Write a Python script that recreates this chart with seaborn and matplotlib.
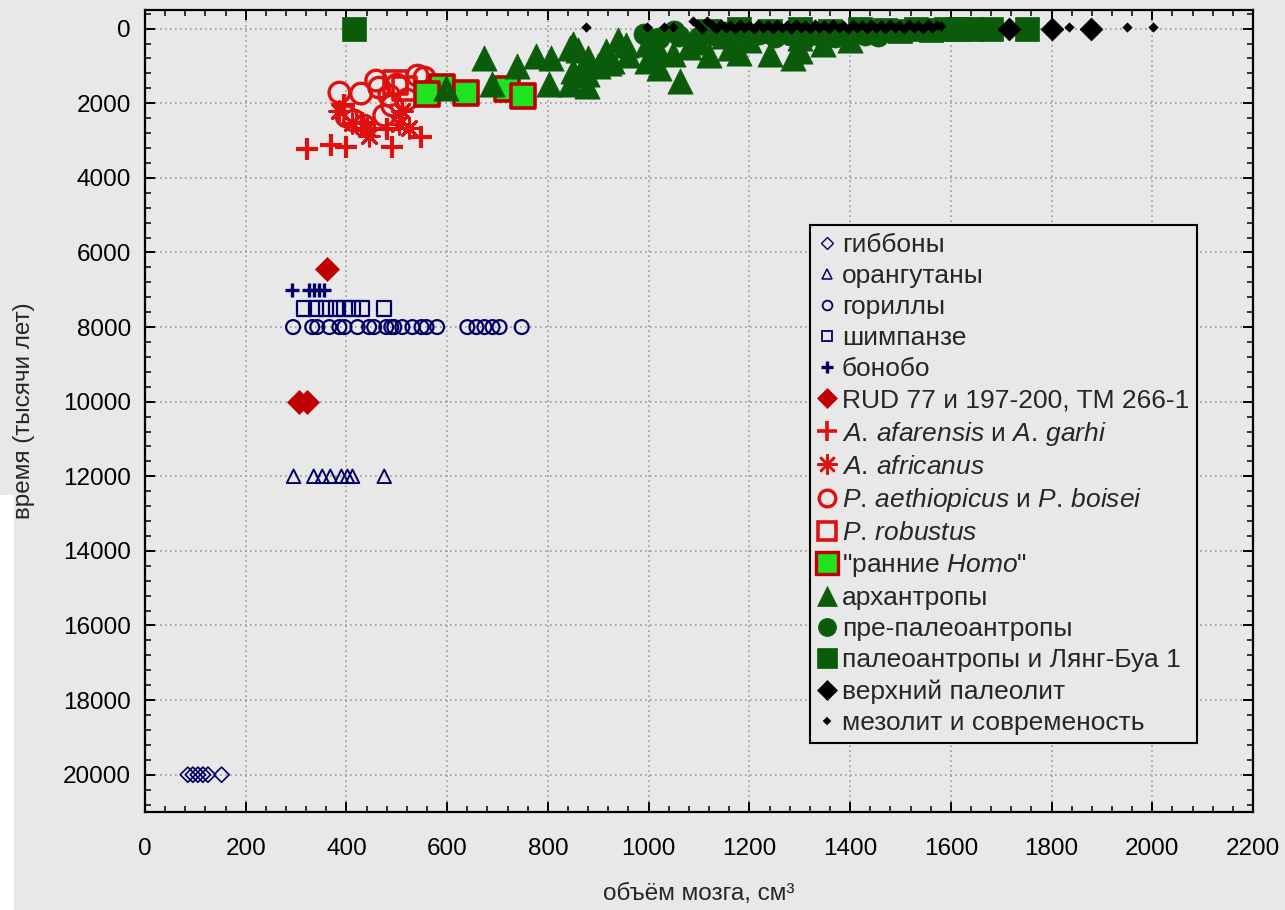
import matplotlib
matplotlib.use("Agg")
import matplotlib.pyplot as plt
import seaborn as sns
import pandas as pd
from matplotlib.lines import Line2D
from matplotlib.ticker import MultipleLocator
from matplotlib.patches import Rectangle

# ---------------- data (brain volume cm3, time in thousand years) ----------------
gib_x = [85, 95, 105, 115, 125, 152]
gib_y = [20000, 20000, 20000, 20000, 20000, 20000]

orang_x = [295, 335, 352, 368, 390, 402, 412, 475]
orang_y = [12000, 12000, 12000, 12000, 12000, 12000, 12000, 12000]

gor_x = [294, 332, 342, 366, 386, 396, 422, 445, 455, 479, 489, 495, 511, 531,
         549, 559, 580, 640, 658, 674, 690, 704, 748]
gor_y = [8000, 8000, 8000, 8000, 8000, 8000, 8000, 8000, 8000, 8000, 8000, 8000,
         8000, 8000, 8000, 8000, 8000, 8000, 8000, 8000, 8000, 8000, 8000]

chimp_x = [316, 340, 360, 380, 396, 412, 431, 475]
chimp_y = [7500, 7500, 7500, 7500, 7500, 7500, 7500, 7500]

bon_x = [292, 326, 336, 346, 356]
bon_y = [7000, 7000, 7000, 7000, 7000]

rud_x = [362, 305, 322]
rud_y = [6450, 10000, 10000]

afar_x = [322, 370, 400, 491, 549, 430, 481, 396]
afar_y = [3213, 3132, 3160, 3186, 2918, 2520, 2680, 2050]

afric_x = [412, 441, 505, 525, 445, 386, 511]
afric_y = [2517, 2650, 2543, 2650, 2865, 2195, 2195]

bois_x = [386, 429, 465, 485, 491, 415, 475, 541, 555, 459, 435, 500, 400, 520]
bois_y = [1714, 1740, 1580, 1794, 2060, 2463, 2329, 1258, 1312, 1392, 2600, 1500,
          2350, 1900]

rob_x = [497, 515]
rob_y = [1446, 1600]

early_x = [590, 559, 638, 718, 750]
early_y = [1560, 1740, 1714, 1606, 1794]

arch_x = [598, 674, 738, 777, 807, 843, 688, 803, 843, 877, 849, 849, 877, 916,
          928, 996, 996, 1048, 1062, 1161, 1240, 1286, 1346, 940, 1100, 1200,
          1300, 1400, 1150, 922, 859, 880, 900, 862, 960, 1020, 1080, 1120,
          1180, 1300, 1020, 955]
arch_y = [1580, 776, 990, 722, 776, 508, 1473, 1473, 1473, 1205, 400, 1125, 1526,
          590, 857, 857, 400, 670, 1392, 509, 670, 800, 400, 300, 350, 300,
          250, 300, 200, 910, 560, 800, 1000, 1250, 700, 600, 500, 700,
          650, 600, 1050, 450]

prepal_x = [990, 1020, 1060, 1100, 1130, 1160, 1190, 1220, 1250, 1280, 1310,
            1340, 1370, 1400, 1430, 1455, 1050, 1150, 1250, 1350, 1420]
prepal_y = [150, 250, 200, 230, 180, 240, 200, 150, 230, 180, 240,
            200, 230, 220, 180, 200, 50, 80, 60, 90, 40]

pal_x = [415, 1120, 1180, 1240, 1300, 1360, 1420, 1470, 1500, 1530, 1560,
         1590, 1615, 1640, 1680, 1751]
pal_y = [0, 50, 0, 50, 0, 50, 0, 30, 60, 20, 40, 10, 0, 0, 0, 0]

upal_x = [1715, 1801, 1878]
upal_y = [0, 0, 0]

meso_x = [875, 996, 1030, 1048, 1835, 1950, 2002,
          1088, 1097, 1106, 1115, 1125, 1134, 1143, 1153, 1162, 1171, 1181,
          1190, 1199, 1209, 1218, 1227, 1237, 1246, 1255, 1265, 1274, 1283,
          1293, 1302, 1311, 1321, 1330, 1339, 1349, 1358, 1367, 1377, 1386,
          1395, 1405, 1414, 1423, 1433, 1442, 1451, 1461, 1470, 1479, 1489,
          1498, 1507, 1517, 1526, 1535, 1545, 1554, 1563, 1572, 1580]
meso_y = [-50, -50, -40, -40, -40, -50, -50,
          -200, -120, 0, -200, -100, 10, -130, -20, -110, 0, -120,
          -10, -110, 10, -130, -20, -100, 0, -120, -10, -110, 10,
          -130, -20, -100, 0, -120, -10, -110, 10, -130, -20, -100,
          0, -120, -10, -110, 10, -130, -20, -100, 0, -120, -10,
          -110, 10, -130, -20, -100, 0, -120, -10, -110, -60]

labels = ['гиббоны', 'орангутаны', 'гориллы', 'шимпанзе', 'бонобо',
          'RUD 77 и 197-200, TM 266-1',
          '$\\it{A.\\,afarensis}$ и $\\it{A.\\,garhi}$',
          '$\\it{A.\\,africanus}$',
          '$\\it{P.\\,aethiopicus}$ и $\\it{P.\\,boisei}$',
          '$\\it{P.\\,robustus}$',
          '"ранние $\\it{Homo}$"',
          'архантропы', 'пре-палеоантропы', 'палеоантропы и Лянг-Буа 1',
          'верхний палеолит', 'мезолит и современость']

x_ticks = [0, 200, 400, 600, 800, 1000, 1200, 1400, 1600, 1800, 2000, 2200]
y_ticks = [0, 2000, 4000, 6000, 8000, 10000, 12000, 14000, 16000, 18000, 20000]

# ---------------- style ----------------
BG = '#e8e8e8'
NAVY = '#000066'
RED = '#e01010'
DRED = '#c00000'
LIME = '#1ee31e'
DGREEN = '#0a5c0a'

sns.set_style("ticks")
plt.rcParams['font.family'] = ['Liberation Sans', 'DejaVu Sans']
plt.rcParams['mathtext.fontset'] = 'custom'
plt.rcParams['mathtext.rm'] = 'Liberation Sans'
plt.rcParams['mathtext.it'] = 'Liberation Sans:italic'
plt.rcParams['mathtext.bf'] = 'Liberation Sans:bold'

fig = plt.figure(figsize=(12.85, 9.10), dpi=100, facecolor=BG)
ax = fig.add_axes([145 / 1285, 1 - 812 / 910, (1253 - 145) / 1285, (812 - 10) / 910])
ax.set_facecolor(BG)

# (x, y, marker, size, face, edge, lw, legend_ms, legend_mew)
groups = [
    (gib_x, gib_y, 'D', 60, 'none', NAVY, 1.2, 6.0, 1.0),
    (orang_x, orang_y, '^', 95, 'none', NAVY, 1.4, 7.0, 1.1),
    (gor_x, gor_y, 'o', 100, 'none', NAVY, 1.6, 7.0, 1.3),
    (chimp_x, chimp_y, 's', 105, 'none', NAVY, 1.6, 7.0, 1.3),
    (bon_x, bon_y, '+', 110, None, NAVY, 2.4, 8.5, 2.4),
    (rud_x, rud_y, 'D', 150, DRED, DRED, 0.5, 10.5, 0.5),
    (afar_x, afar_y, '+', 250, None, RED, 3.0, 14.5, 2.6),
    (afric_x, afric_y, (8, 2, 0), 200, None, RED, 2.1, 14.5, 1.8),
    (bois_x, bois_y, 'o', 220, 'none', RED, 2.4, 12.0, 2.4),
    (rob_x, rob_y, 's', 260, 'none', RED, 2.6, 13.0, 2.6),
    (early_x, early_y, 's', 320, LIME, DRED, 2.6, 16.0, 2.4),
    (arch_x, arch_y, '^', 330, DGREEN, DGREEN, 0.5, 15.0, 0.5),
    (prepal_x, prepal_y, 'o', 230, DGREEN, DGREEN, 0.5, 13.0, 0.5),
    (pal_x, pal_y, 's', 280, DGREEN, DGREEN, 0.5, 14.5, 0.5),
    (upal_x, upal_y, 'D', 135, 'black', 'black', 0.5, 10.5, 0.5),
    (meso_x, meso_y, 'D', 24, 'black', 'black', 0.3, 4.5, 0.3),
]

handles = []
for (gx, gy, mk, s, face, edge, lw, lms, lmew), lab in zip(groups, labels):
    df = pd.DataFrame({'volume': gx, 'time': gy})
    if face is None:
        sns.scatterplot(data=df, x='volume', y='time', ax=ax, marker=mk, s=s,
                        color=edge, linewidth=lw, zorder=3, legend=False)
        handles.append(Line2D([], [], linestyle='none', marker=mk, markersize=lms,
                              color=edge, markeredgecolor=edge, markeredgewidth=lmew,
                              label=lab))
    else:
        sns.scatterplot(data=df, x='volume', y='time', ax=ax, marker=mk, s=s,
                        color=edge, facecolor=face, edgecolor=edge, linewidth=lw,
                        zorder=3, legend=False)
        handles.append(Line2D([], [], linestyle='none', marker=mk, markersize=lms,
                              markerfacecolor=face, markeredgecolor=edge,
                              markeredgewidth=lmew, label=lab))

# ---------------- axes ----------------
ax.set_xlim(0, 2200)
ax.set_ylim(21000, -500)
ax.set_xticks(x_ticks)
ax.set_yticks(y_ticks)
ax.xaxis.set_minor_locator(MultipleLocator(40))
ax.yaxis.set_minor_locator(MultipleLocator(400))
ax.set_axisbelow(True)
ax.grid(True, which='major', color='#9a9a9a', linestyle=(0, (1, 2)), linewidth=1.2)
ax.tick_params(which='both', direction='in', top=True, right=True,
               labeltop=False, labelright=False, colors='black')
ax.tick_params(which='major', length=7, width=1.4, labelsize=17.5)
ax.tick_params(axis='x', which='major', pad=19)
ax.tick_params(axis='y', which='major', pad=10)
ax.tick_params(which='minor', length=4, width=1.1)
for sp in ax.spines.values():
    sp.set_visible(True)
    sp.set_color('black')
    sp.set_linewidth(1.6)

ax.set_xlabel('объём мозга, см³', fontsize=17.5, labelpad=16)
ax.set_ylabel('время (тысячи лет)', fontsize=17.5, labelpad=20)

leg = ax.legend(handles=handles, loc='upper right', bbox_to_anchor=(0.9495, 0.732),
                frameon=True, fancybox=False, edgecolor='black', facecolor=BG,
                framealpha=1, fontsize=19, labelspacing=0.27, handlelength=0.65,
                handletextpad=0.25, borderpad=0.3, borderaxespad=0)
leg.get_frame().set_linewidth(1.5)

fig.add_artist(Rectangle((0, 0), 14 / 1285, (910 - 495) / 910,
                         transform=fig.transFigure, facecolor='white',
                         edgecolor='none', zorder=10))

fig.savefig('out.png', dpi=100, facecolor=BG)
